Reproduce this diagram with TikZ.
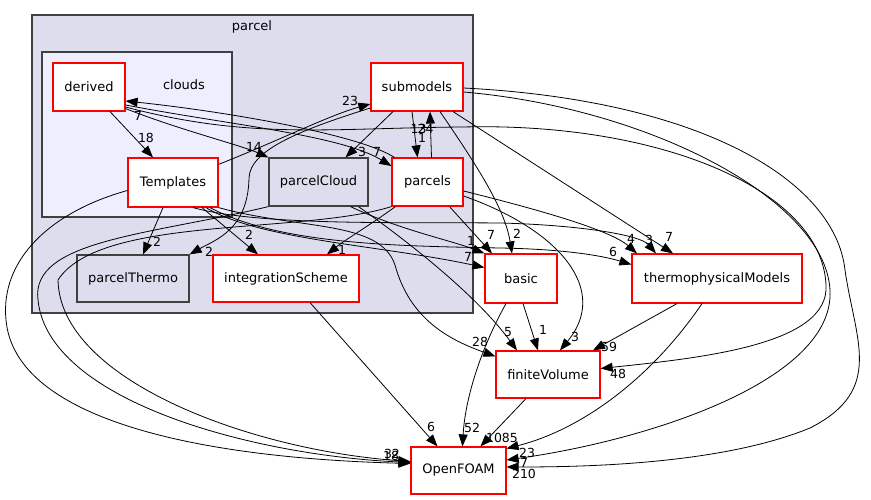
\documentclass[tikz,border=0pt]{standalone}
\usepackage{fontspec}
\setmainfont{DejaVu Sans}
\usetikzlibrary{arrows.meta}
\definecolor{clfill}{HTML}{DDDDEE}
\definecolor{infill}{HTML}{EEEEFF}
\definecolor{clborder}{HTML}{404040}
\definecolor{dirred}{HTML}{FF0000}
\begin{document}
\begin{tikzpicture}[x=1pt,y=-1pt,
  font=\fontsize{13}{15}\selectfont,
  cluster/.style={draw=clborder,line width=1.2pt,inner sep=0pt},
  reddir/.style={draw=dirred,fill=white,line width=1.2pt,inner sep=0pt},
  leafdir/.style={draw=clborder,fill=clfill,line width=1.2pt,inner sep=0pt},
  edge/.style={draw=black,line width=0.8pt,-{Triangle[length=12pt,width=9pt]}},
  lbl/.style={inner sep=0pt,font=\fontsize{12.5}{14}\selectfont}]
\useasboundingbox (0,0) rectangle (871,500);
\fill[white] (0,0) rectangle (871,500);
% clusters
\node[cluster,fill=clfill,minimum width=441pt,minimum height=298pt] (parcelC) at (252.5,164) {};
\node[inner sep=0pt] (parcelL) at (252,27) {parcel};
\node[cluster,fill=infill,minimum width=190pt,minimum height=165pt] (cloudsC) at (137,134.5) {};
\node[inner sep=0pt] (cloudsL) at (184,85) {clouds};
% nodes
\node[reddir,minimum width=72pt,minimum height=48pt] (derived) at (89,87) {derived};
\node[reddir,minimum width=90pt,minimum height=49pt] (Templates) at (173,182.5) {Templates};
\node[reddir,minimum width=92pt,minimum height=48pt] (submodels) at (417,87) {submodels};
\node[leafdir,minimum width=99pt,minimum height=48pt] (parcelCloud) at (318.5,182) {parcelCloud};
\node[reddir,minimum width=71pt,minimum height=48pt] (parcels) at (427.5,182) {parcels};
\node[leafdir,minimum width=112pt,minimum height=47pt] (parcelThermo) at (133,278.5) {parcelThermo};
\node[reddir,minimum width=146pt,minimum height=47pt] (integrationScheme) at (286,278.5) {integrationScheme};
\node[reddir,minimum width=72pt,minimum height=49pt] (basic) at (521,278.5) {basic};
\node[reddir,minimum width=170pt,minimum height=49pt] (thermophysicalModels) at (717,278.5) {thermophysicalModels};
\node[reddir,minimum width=104pt,minimum height=47pt] (finiteVolume) at (548,374.5) {finiteVolume};
\node[reddir,minimum width=95pt,minimum height=47pt] (OpenFOAM) at (458.5,470.5) {OpenFOAM};
% edges
\draw[edge] ([xshift=21pt]derived.south) -- ([xshift=-20pt]Templates.north);
\draw[edge] ([yshift=3pt]derived.south east) .. controls (180,130) and (240,145) .. (parcelCloud.north west);
\draw[edge] ([xshift=3pt]parcels.north west) .. controls (360,135) and (230,112) .. ([yshift=-14pt]derived.east);
\draw[edge] ([yshift=-18pt]derived.east) .. controls (230,125) and (340,135) .. ([yshift=16pt]parcels.west);
\draw[edge] ([yshift=-20pt]derived.east) .. controls (250,140) and (330,128) .. (463,127) .. controls (660,122) and (822,190) .. (826,285) .. controls (830,345) and (700,358) .. ([yshift=6pt]finiteVolume.east);
\draw[edge] ([yshift=-7pt]Templates.north east) .. controls (280,140) and (330,115) .. ([yshift=-17pt]submodels.west);
\draw[edge] ([yshift=-21pt]submodels.west) .. controls (300,130) and (250,150) .. (249,178) .. controls (248,230) and (215,240) .. (parcelThermo.north east);
\draw[edge] ([xshift=-24pt]submodels.south) -- ([xshift=27pt]parcelCloud.north);
\draw[edge] ([xshift=-5pt]submodels.south) -- ([xshift=-10pt]parcels.north);
\draw[edge] ([xshift=4pt]parcels.north) -- ([xshift=13pt]submodels.south);
\draw[edge] ([xshift=23pt]submodels.south) .. controls (480,170) and (505,210) .. ([xshift=-9pt]basic.north);
\draw[edge] ([xshift=36pt]submodels.south) -- ([xshift=-44pt]thermophysicalModels.north);
\draw[edge] ([yshift=-1pt]submodels.east) .. controls (700,100) and (835,180) .. (845,270) .. controls (855,340) and (885,390) .. (810,428) .. controls (720,465) and (580,467) .. ([yshift=3.5pt]OpenFOAM.east);
\draw[edge] ([yshift=-5pt]submodels.east) .. controls (650,108) and (825,200) .. (830,290) .. controls (835,380) and (650,440) .. ([yshift=10.5pt]OpenFOAM.east);
\draw[edge] ([xshift=-10pt]Templates.south) -- ([xshift=10pt]parcelThermo.north);
\draw[edge] ([xshift=29pt]Templates.south) -- ([xshift=-28pt]integrationScheme.north);
\draw[edge] ([xshift=33pt]Templates.south) .. controls (260,240) and (380,245) .. ([yshift=11pt]basic.west);
\draw[edge] ([xshift=37pt]Templates.south) .. controls (280,245) and (400,246) .. (500,248) .. controls (560,249) and (600,255) .. ([yshift=14pt]thermophysicalModels.west);
\draw[edge] (Templates.south east) .. controls (300,230) and (380,220) .. (395,265) .. controls (410,320) and (450,340) .. ([yshift=-6pt]finiteVolume.north west);
\draw[edge] ([xshift=20pt]Templates.south) .. controls (260,226) and (400,222) .. (500,223) .. controls (580,225) and (640,235) .. ([xshift=-61pt]thermophysicalModels.north);
\draw[edge] ([xshift=-32pt]parcels.south) .. controls (370,225) and (345,240) .. ([xshift=41pt]integrationScheme.north);
\draw[edge] ([xshift=22pt]parcels.south) -- ([xshift=-29pt]basic.north);
\draw[edge] ([yshift=-9pt]parcels.east) .. controls (540,210) and (610,230) .. ([xshift=-80pt]thermophysicalModels.north);
\draw[edge] ([yshift=-14pt]parcels.east) .. controls (560,230) and (610,290) .. ([xshift=12pt]finiteVolume.north);
\draw[edge] ([xshift=32pt]parcelCloud.south) .. controls (400,230) and (450,240) .. (basic.north west);
\draw[edge] ([xshift=40pt]parcelCloud.south) .. controls (420,250) and (480,300) .. ([xshift=-31pt]finiteVolume.north);
\draw[edge] (parcelCloud.south west) .. controls (150,235) and (30,240) .. (38,300) .. controls (48,400) and (250,455) .. ([yshift=8pt]OpenFOAM.west);
\draw[edge] ([yshift=-8pt]Templates.west) .. controls (50,212) and (0,260) .. (6,320) .. controls (15,420) and (200,458) .. ([yshift=7pt]OpenFOAM.west);
\draw[edge] (parcels.south west) .. controls (300,235) and (100,215) .. (58,280) .. controls (60,380) and (250,450) .. ([yshift=9pt]OpenFOAM.west);
\draw[edge] ([xshift=24pt]integrationScheme.south) -- ([xshift=-21pt]OpenFOAM.north);
\draw[edge] ([xshift=2pt]basic.south) -- ([xshift=-10pt]finiteVolume.north);
\draw[edge] ([xshift=-15pt]basic.south) .. controls (480,350) and (465,400) .. ([xshift=4pt]OpenFOAM.north);
\draw[edge] ([xshift=-40pt]thermophysicalModels.south) -- ([xshift=45pt]finiteVolume.north);
\draw[edge] ([xshift=-15pt]thermophysicalModels.south) .. controls (650,380) and (580,430) .. ([yshift=22pt]OpenFOAM.east);
\draw[edge] ([xshift=-22pt]finiteVolume.south) -- ([xshift=22pt]OpenFOAM.north);
% labels
\node[lbl] (l1) at (146,138) {18};
\node[lbl] (l2) at (254,147) {14};
\node[lbl] (l3) at (138,116) {7};
\node[lbl] (l4) at (377,152) {7};
\node[lbl] (l5) at (618,374) {48};
\node[lbl] (l6) at (350,101) {23};
\node[lbl] (l7) at (209,252) {2};
\node[lbl] (l8) at (362,152) {3};
\node[lbl] (l9) at (422,138) {1};
\node[lbl] (l10) at (418.5,129) {13};
\node[lbl] (l11) at (425.5,129) {24};
\node[lbl] (l12) at (517,234) {2};
\node[lbl] (l13) at (669,237) {7};
\node[lbl] (l14) at (524,474) {210};
\node[lbl] (l15) at (524,463) {7};
\node[lbl] (l16) at (157,242) {2};
\node[lbl] (l17) at (249,235) {2};
\node[lbl] (l18) at (468,257) {7};
\node[lbl] (l19) at (613,252) {6};
\node[lbl] (l20) at (480,342) {28};
\node[lbl] (l21) at (649,240) {3};
\node[lbl] (l22) at (342,250) {1};
\node[lbl] (l23) at (491,235) {7};
\node[lbl] (l24) at (631,239) {4};
\node[lbl] (l25) at (575,337) {3};
\node[lbl] (l26) at (471,241) {1};
\node[lbl] (l27) at (508,332) {5};
\node[lbl] (l28) at (431,427) {6};
\node[lbl] (l29) at (543,330) {1};
\node[lbl] (l30) at (472,428) {52};
\node[lbl] (l31) at (609,347) {59};
\node[lbl] (l32) at (527,453) {23};
\node[lbl] (l33) at (502,438) {1085};
\node[lbl] (l34) at (392,454) {32};
\node[lbl] (l35) at (391,456) {18};
\end{tikzpicture}
\end{document}
